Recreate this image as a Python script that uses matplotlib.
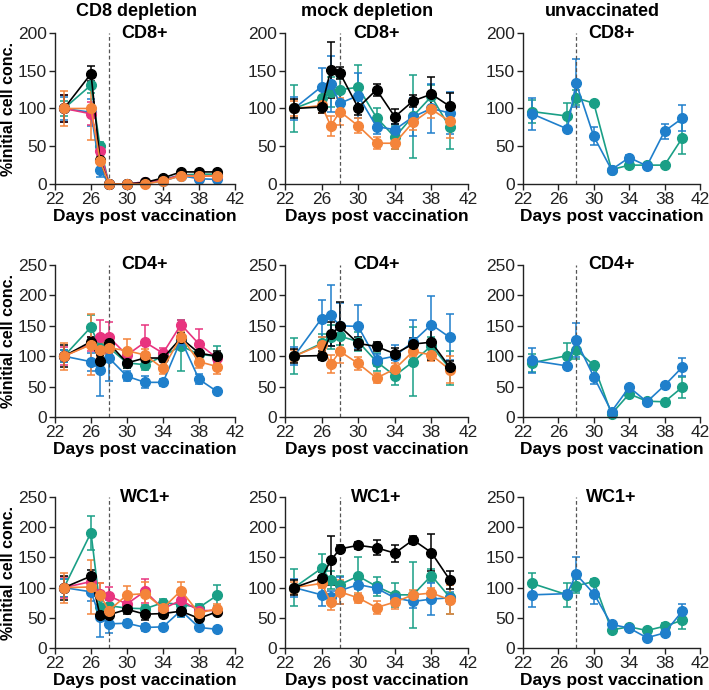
import matplotlib.pyplot as plt

plt.rcParams['font.family'] = ['Liberation Sans', 'DejaVu Sans']

days = [23, 26, 27, 28, 30, 32, 34, 36, 38, 40]
days_unvac = [23, 27, 28, 30, 32, 34, 36, 38, 40]

TEAL = '#1a9f86'
BLUE = '#1f7fcb'
PINK = '#e8347f'
BLACK = '#000000'
ORANGE = '#f4843a'

# CD8 depletion group: teal, blue, pink, black, orange
dep_colors = [TEAL, BLUE, PINK, BLACK, ORANGE]
dep_cd8 = [[100, 131, 50, 0, 0, 2, 6, 12, 13, 13],
           [100, 95, 19, 0, 0, 1, 4, 11, 7, 6],
           [100, 93, 44, 0, 0, 3, 5, 12, 10, 11],
           [100, 146, 32, 0, 0, 2, 8, 16, 16, 16],
           [100, 100, 31, 0, 0, 0, 4, 11, 10, 11]]
dep_cd8_err = [[10, 10, 5, 0, 0, 1, 1, 2, 2, 2],
               [15, 18, 10, 0, 0, 1, 1, 2, 2, 2],
               [18, 15, 5, 0, 0, 1, 1, 2, 2, 2],
               [18, 10, 4, 0, 0, 1, 2, 2, 2, 2],
               [23, 42, 5, 0, 0, 1, 1, 2, 2, 2]]
dep_cd4 = [[100, 148, 114, 114, 89, 86, 100, 117, 103, 100],
           [100, 91, 78, 97, 67, 57, 57, 127, 62, 42],
           [100, 120, 132, 131, 102, 123, 105, 152, 120, 97],
           [100, 124, 92, 121, 89, 97, 97, 130, 105, 100],
           [100, 119, 110, 114, 109, 102, 80, 132, 91, 83]]
dep_cd4_err = [[10, 20, 10, 10, 8, 8, 8, 42, 8, 16],
               [10, 15, 44, 38, 8, 10, 6, 10, 8, 4],
               [15, 12, 28, 26, 10, 28, 8, 8, 25, 8],
               [18, 8, 8, 8, 8, 8, 6, 8, 6, 8],
               [22, 50, 12, 12, 20, 10, 10, 10, 10, 12]]
dep_wc1 = [[100, 191, 68, 70, 66, 65, 75, 72, 67, 87],
           [100, 93, 51, 40, 41, 34, 35, 62, 34, 31],
           [100, 110, 90, 86, 73, 94, 65, 79, 62, 62],
           [100, 119, 54, 55, 64, 56, 57, 61, 49, 60],
           [100, 101, 88, 62, 88, 90, 66, 95, 58, 65]]
dep_wc1_err = [[15, 28, 10, 10, 6, 6, 6, 20, 6, 17],
               [15, 15, 33, 15, 5, 6, 4, 10, 4, 4],
               [18, 10, 18, 15, 10, 20, 8, 8, 6, 6],
               [20, 10, 8, 10, 8, 10, 5, 6, 5, 5],
               [25, 45, 20, 10, 15, 20, 8, 15, 8, 8]]

# mock depletion group: teal, blue, orange, black
mock_colors = [TEAL, BLUE, ORANGE, BLACK]
mock_cd8 = [[100, 114, 122, 125, 128, 88, 62, 90, 116, 75],
            [100, 129, 132, 107, 117, 76, 72, 89, 100, 94],
            [100, 104, 77, 96, 77, 54, 54, 82, 99, 83],
            [100, 102, 151, 147, 101, 125, 89, 110, 119, 103]]
mock_cd8_err = [[31, 10, 20, 15, 30, 12, 15, 55, 15, 28],
                [15, 25, 37, 15, 30, 10, 8, 25, 32, 28],
                [10, 10, 13, 18, 10, 8, 8, 10, 12, 22],
                [12, 8, 37, 8, 10, 8, 10, 8, 23, 18]]
mock_cd4 = [[100, 121, 132, 133, 124, 91, 68, 91, 117, 80],
            [100, 162, 167, 150, 149, 94, 100, 124, 152, 131],
            [100, 119, 87, 108, 88, 64, 79, 108, 102, 78],
            [100, 101, 136, 149, 121, 116, 104, 120, 123, 82]]
mock_cd4_err = [[30, 15, 20, 15, 15, 15, 15, 57, 15, 28],
                [15, 30, 50, 38, 35, 10, 18, 36, 47, 38],
                [10, 12, 15, 20, 10, 8, 10, 10, 10, 22],
                [12, 8, 20, 40, 10, 8, 10, 10, 30, 10]]
mock_wc1 = [[100, 132, 112, 105, 119, 102, 88, 88, 120, 84],
            [100, 88, 84, 95, 105, 99, 83, 77, 81, 83],
            [100, 107, 76, 93, 83, 67, 76, 88, 91, 80],
            [100, 116, 145, 164, 170, 166, 157, 179, 158, 113]]
mock_wc1_err = [[31, 23, 15, 14, 31, 16, 20, 55, 10, 28],
                [15, 18, 10, 22, 8, 8, 8, 10, 26, 10],
                [10, 8, 13, 20, 8, 10, 12, 8, 8, 24],
                [12, 10, 40, 6, 6, 12, 14, 7, 30, 15]]

# unvaccinated group: teal, blue
unvac_colors = [TEAL, BLUE]
unvac_cd8 = [[96, 90, 114, 107, 19, 25, 25, 25, 61],
             [93, 73, 134, 63, 19, 35, 24, 70, 87]]
unvac_cd8_err = [[15, 17, 10, 3, 2, 2, 2, 2, 21],
                 [21, 3, 32, 12, 2, 4, 4, 10, 17]]
unvac_cd4 = [[89, 101, 111, 85, 5, 38, 26, 25, 49],
             [93, 84, 126, 66, 9, 49, 25, 52, 82]]
unvac_cd4_err = [[15, 20, 15, 4, 2, 4, 3, 3, 17],
                 [20, 4, 28, 12, 2, 4, 3, 4, 15]]
unvac_wc1 = [[107, 88, 103, 110, 30, 35, 29, 36, 46],
             [88, 90, 122, 90, 39, 33, 17, 25, 61]]
unvac_wc1_err = [[17, 20, 12, 4, 3, 3, 3, 6, 14],
                 [20, 4, 28, 17, 4, 3, 3, 3, 12]]

col_titles = ['CD8 depletion', 'mock depletion', 'unvaccinated']
row_labels = ['CD8+', 'CD4+', 'WC1+']
row_ymax = [200, 250, 250]

grid = [
    [(days, dep_colors, dep_cd8, dep_cd8_err),
     (days, mock_colors, mock_cd8, mock_cd8_err),
     (days_unvac, unvac_colors, unvac_cd8, unvac_cd8_err)],
    [(days, dep_colors, dep_cd4, dep_cd4_err),
     (days, mock_colors, mock_cd4, mock_cd4_err),
     (days_unvac, unvac_colors, unvac_cd4, unvac_cd4_err)],
    [(days, dep_colors, dep_wc1, dep_wc1_err),
     (days, mock_colors, mock_wc1, mock_wc1_err),
     (days_unvac, unvac_colors, unvac_wc1, unvac_wc1_err)],
]

fig = plt.figure(figsize=(7.09, 6.90), dpi=100)

W, H = 709.0, 690.0
col_px = [(55, 235), (285, 468), (523, 700)]
row_px = [(33, 184), (265, 417), (497, 648)]

for r in range(3):
    for c in range(3):
        x0, x1 = col_px[c]
        y0, y1 = row_px[r]
        ax = fig.add_axes([x0 / W, 1 - y1 / H, (x1 - x0) / W, (y1 - y0) / H])
        xs, colors, vals, errs = grid[r][c]
        for col, v, e in zip(colors, vals, errs):
            ax.errorbar(xs, v, yerr=e, color=col, ecolor=col, marker='o',
                        markersize=7, linewidth=1.2, elinewidth=1.1,
                        capsize=2.8, capthick=1.1, clip_on=False)
        ax.axvline(28, color='#555555', linestyle=(0, (3, 2)), linewidth=0.9)
        ax.set_xlim(22, 42)
        ax.set_ylim(0, row_ymax[r])
        ax.set_xticks(range(22, 43, 4))
        ax.set_yticks(range(0, row_ymax[r] + 1, 50))
        ax.spines['top'].set_visible(False)
        ax.spines['right'].set_visible(False)
        for s in ['left', 'bottom']:
            ax.spines[s].set_linewidth(1.0)
            ax.spines[s].set_color('#222222')
        ax.tick_params(labelsize=12.5, length=4, width=1.0, color='#222222',
                       pad=2, labelcolor='#222222')
        ax.set_xlabel('Days post vaccination', fontsize=12.5,
                      fontweight='bold', labelpad=1)
        if c == 0:
            ax.set_ylabel('%initial cell conc.', fontsize=11.5,
                          fontweight='bold', labelpad=1)
        ax.text(0.5, 1.0, row_labels[r], transform=ax.transAxes,
                ha='center', va='center', fontsize=13, fontweight='bold')
        if r == 0:
            ax.text(0.45, 1.14, col_titles[c], transform=ax.transAxes,
                    ha='center', va='center', fontsize=13, fontweight='bold')

fig.savefig('out.png', dpi=100)
